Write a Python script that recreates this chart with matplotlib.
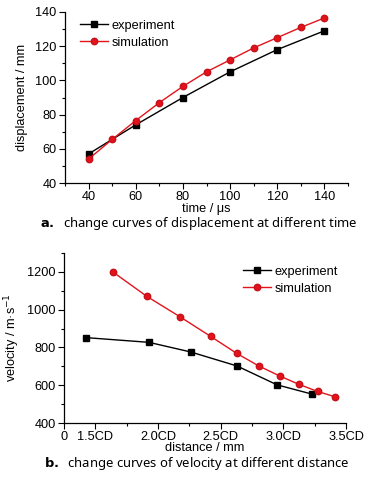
import matplotlib
matplotlib.use("Agg")
import matplotlib.pyplot as plt
from matplotlib.ticker import MultipleLocator, FixedLocator

plt.rcParams['font.family'] = ['Liberation Sans', 'DejaVu Sans']

# ---- data: panel a ----
time_exp = [40, 60, 80, 100, 120, 140]
disp_exp = [57, 74, 90, 105, 118, 129]
time_sim = [40, 50, 60, 70, 80, 90, 100, 110, 120, 130, 140]
disp_sim = [54, 65.5, 76.5, 87, 96.5, 105, 112, 119, 125, 131, 136.5]

# ---- data: panel b (x in units of CD) ----
dist_exp = [1.425, 1.928, 2.261, 2.63, 2.95, 3.228]
vel_exp = [852, 827, 776, 702, 602, 553]
dist_sim = [1.639, 1.912, 2.176, 2.419, 2.627, 2.804, 2.974, 3.127, 3.274, 3.415]
vel_sim = [1200, 1070, 962, 859, 769, 702, 648, 604, 567, 538]
dist_ticks = [1.25, 1.5, 2.0, 2.5, 3.0, 3.5]
dist_ticklabels = ['0', '1.5CD', '2.0CD', '2.5CD', '3.0CD', '3.5CD']

W, H = 368, 478
fig = plt.figure(figsize=(W / 100, H / 100), dpi=100)

def rect(l, r, t, b):
    return [l / W, 1 - b / H, (r - l) / W, (b - t) / H]

red = '#e3131b'
fs = 9.2

def style(ax):
    for s in ['top', 'right']:
        ax.spines[s].set_visible(False)
    for s in ['left', 'bottom']:
        ax.spines[s].set_linewidth(0.9)
    ax.tick_params(which='major', direction='out', length=4, width=0.8, labelsize=fs, pad=2)
    ax.tick_params(which='minor', direction='out', length=2, width=0.8)

mk_exp = dict(color='black', lw=1, marker='s', ms=4.2)
mk_sim = dict(color=red, lw=1, marker='o', ms=4.6, mec='#c8101a', mfc=red)

# panel a
ax1 = fig.add_axes(rect(65, 348, 12, 183))
ax1.plot(time_exp, disp_exp, label='experiment', **mk_exp)
ax1.plot(time_sim, disp_sim, label='simulation', **mk_sim)
ax1.set_xlim(30, 150)
ax1.set_ylim(40, 140)
ax1.xaxis.set_major_locator(FixedLocator([40, 60, 80, 100, 120, 140]))
ax1.xaxis.set_minor_locator(FixedLocator([30, 50, 70, 90, 110, 130, 150]))
ax1.yaxis.set_major_locator(MultipleLocator(20))
ax1.yaxis.set_minor_locator(MultipleLocator(10))
style(ax1)
ax1.set_xlabel('time / μs', fontsize=fs, labelpad=0)
ax1.set_ylabel('displacement / mm', fontsize=fs, labelpad=5)
ax1.legend(loc='upper left', bbox_to_anchor=(0.025, 1.0), frameon=False, fontsize=fs,
           handlelength=2.2, handletextpad=0.3, labelspacing=0.4, borderaxespad=0.2)

# panel b
ax2 = fig.add_axes(rect(64, 346, 253, 423))
ax2.plot(dist_exp, vel_exp, label='experiment', **mk_exp)
ax2.plot(dist_sim, vel_sim, label='simulation', **mk_sim)
ax2.set_xlim(1.25, 3.5)
ax2.set_ylim(400, 1300)
ax2.xaxis.set_major_locator(FixedLocator(dist_ticks))
ax2.set_xticklabels(dist_ticklabels)
ax2.xaxis.set_minor_locator(FixedLocator([1.75, 2.25, 2.75, 3.25]))
ax2.yaxis.set_major_locator(FixedLocator([400, 600, 800, 1000, 1200]))
ax2.yaxis.set_minor_locator(FixedLocator([500, 700, 900, 1100, 1300]))
style(ax2)
ax2.set_xlabel('distance / mm', fontsize=fs, labelpad=-1)
ax2.set_ylabel('velocity / m·s$^{-1}$', fontsize=fs, labelpad=4)
ax2.legend(loc='upper right', bbox_to_anchor=(1.0, 0.97), frameon=False, fontsize=fs,
           handlelength=2.2, handletextpad=0.3, labelspacing=0.4, borderaxespad=0.2)

# captions
cap_fs = 9.4
fig.text(199 / W, 1 - 224 / H, r'$\mathbf{a.}$  change curves of displacement at different time',
         ha='center', va='center', fontsize=cap_fs, family=['Noto Sans', 'DejaVu Sans'])
fig.text(197 / W, 1 - 464 / H, r'$\mathbf{b.}$  change curves of velocity at different distance',
         ha='center', va='center', fontsize=cap_fs, family=['Noto Sans', 'DejaVu Sans'])

fig.savefig('out.png', dpi=100)
